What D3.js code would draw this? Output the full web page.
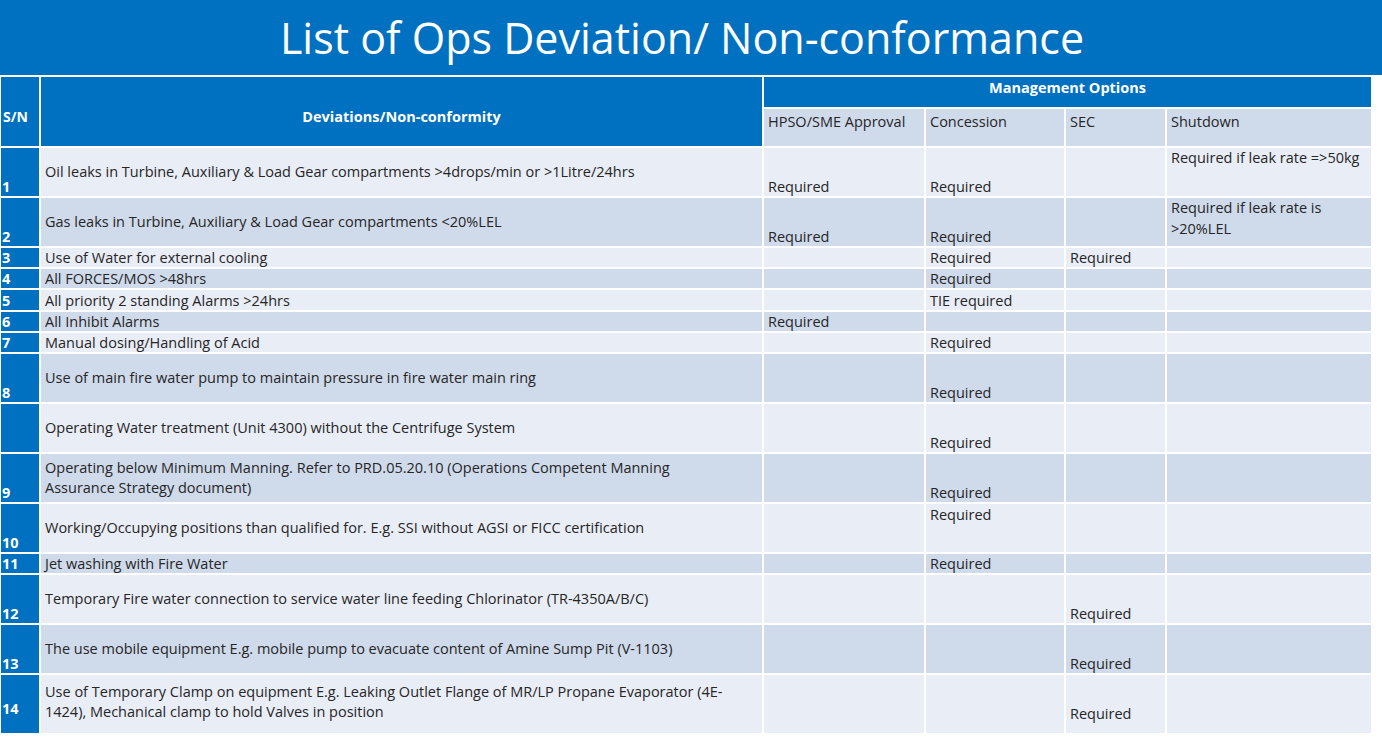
<!DOCTYPE html>
<meta charset="utf-8">
<style>
body { margin:0; background:#fff; }
text { font-family: "Open Sans", sans-serif; }
</style>
<body>
<script src="https://cdn.jsdelivr.net/npm/d3@7"></script>
<svg id="tbl" width="1382" height="744"></svg>
<script>
var title = "List of Ops Deviation/ Non-conformance";
var sn = ["1","2","3","4","5","6","7","8","","9","10","11","12","13","14"];
var deviations = [
  ["Oil leaks in Turbine, Auxiliary & Load Gear compartments >4drops/min or >1Litre/24hrs"],
  ["Gas leaks in Turbine, Auxiliary & Load Gear compartments <20%LEL"],
  ["Use of Water for external cooling"],
  ["All FORCES/MOS >48hrs"],
  ["All priority 2 standing Alarms >24hrs"],
  ["All Inhibit Alarms"],
  ["Manual dosing/Handling of Acid"],
  ["Use of main fire water pump to maintain pressure in fire water main ring"],
  ["Operating Water treatment (Unit 4300) without the Centrifuge System"],
  ["Operating below Minimum Manning. Refer to PRD.05.20.10 (Operations Competent Manning", "Assurance Strategy document)"],
  ["Working/Occupying positions than qualified for. E.g. SSI without AGSI or FICC certification"],
  ["Jet washing with Fire Water"],
  ["Temporary Fire water connection to service water line feeding Chlorinator (TR-4350A/B/C)"],
  ["The use mobile equipment E.g. mobile pump to evacuate content of Amine Sump Pit (V-1103)"],
  ["Use of Temporary Clamp on equipment E.g. Leaking Outlet Flange of MR/LP Propane Evaporator (4E-", "1424), Mechanical clamp to hold Valves in position"]
];
var hpso = ["Required","Required","","","","Required","","","","","","","","",""];
var concession = ["Required","Required","Required","Required","TIE required","","Required","Required","Required","Required","Required","Required","","",""];
var sec = ["","","Required","","","","","","","","","","Required","Required","Required"];
var shutdown = [["Required if leak rate =>50kg"],["Required if leak rate is",">20%LEL"],[],[],[],[],[],[],[],[],[],[],[],[],[]];
var topAligned = {"10,2": true}; // row index, column index
var mgmtHeads = ["HPSO/SME Approval","Concession","SEC","Shutdown"];

// layout
var rowH = [50,50,21,21,22,21,21,50,50,50,50,21,50,50,60];
var colX = [0,40,763,925,1065,1166,1372];
var blue = "#0070c0", light = "#e9edf6", dark = "#cfdaeb", ink = "#262626";
var fs = "14.5px";
var svg = d3.select("#tbl");

svg.append("rect").attr("width",1382).attr("height",75).attr("fill",blue);
svg.append("text").attr("x",682).attr("y",54).attr("text-anchor","middle")
  .attr("fill","#fff").style("font-size","43px").text(title);

function cell(x0,x1,y0,y1,fill){
  svg.append("rect").attr("x",x0).attr("y",y0).attr("width",x1-x0).attr("height",y1-y0)
    .attr("fill",fill).attr("stroke","#fff").attr("stroke-width",2);
}
cell(colX[0],colX[1],76,147,blue);
cell(colX[1],colX[2],76,147,blue);
cell(colX[2],colX[6],76,108,blue);
svg.append("text").attr("x",3).attr("y",122).attr("fill","#fff").style("font-size","14px").style("font-weight","bold").text("S/N");
svg.append("text").attr("x",(colX[1]+colX[2])/2).attr("y",122).attr("text-anchor","middle").attr("fill","#fff").style("font-size","14.5px").style("font-weight","bold").text("Deviations/Non-conformity");
svg.append("text").attr("x",(colX[2]+colX[6])/2).attr("y",93).attr("text-anchor","middle").attr("fill","#fff").style("font-size","14.5px").style("font-weight","bold").text("Management Options");
mgmtHeads.forEach(function(h,i){
  cell(colX[i+2],colX[i+3],108,147,dark);
  svg.append("text").attr("x",colX[i+2]+5).attr("y",127).attr("fill",ink).style("font-size",fs).text(h);
});

var tops = [147];
rowH.forEach(function(h,i){ tops.push(tops[i]+h); });

sn.forEach(function(s,i){
  var y0 = tops[i], y1 = tops[i+1], h = y1-y0, tall = h > 30;
  var fill = i%2===0 ? light : dark;
  cell(colX[0],colX[1],y0,y1,blue);
  for (var c=1;c<6;c++) cell(colX[c],colX[c+1],y0,y1,fill);
  svg.append("text").attr("x",2).attr("y",y1-(i==14?20:5)).attr("fill","#fff")
    .style("font-size",fs).style("font-weight","bold").text(s);
  var lines = deviations[i];
  var mid = (y0+y1)/2;
  lines.forEach(function(t,k){
    var ty = tall ? mid + 5 + (k-(lines.length-1)/2)*20 + (i==14?-2:0) : y1-5;
    svg.append("text").attr("x",45).attr("y",ty).attr("fill",ink).style("font-size",fs).text(t);
  });
  [hpso[i],concession[i],sec[i]].forEach(function(v,c){
    if(!v) return;
    var ty = !tall ? y1-5 : (topAligned[i+","+(c+1)] ? y0+17 : (i==14?y1-15:y1-5));
    svg.append("text").attr("x",colX[c+2]+5).attr("y",ty).attr("fill",ink).style("font-size",fs).text(v);
  });
  shutdown[i].forEach(function(t,k){
    svg.append("text").attr("x",colX[5]+5).attr("y",y0+16+k*21).attr("fill",ink).style("font-size",fs).text(t);
  });
});
</script>
</body>
